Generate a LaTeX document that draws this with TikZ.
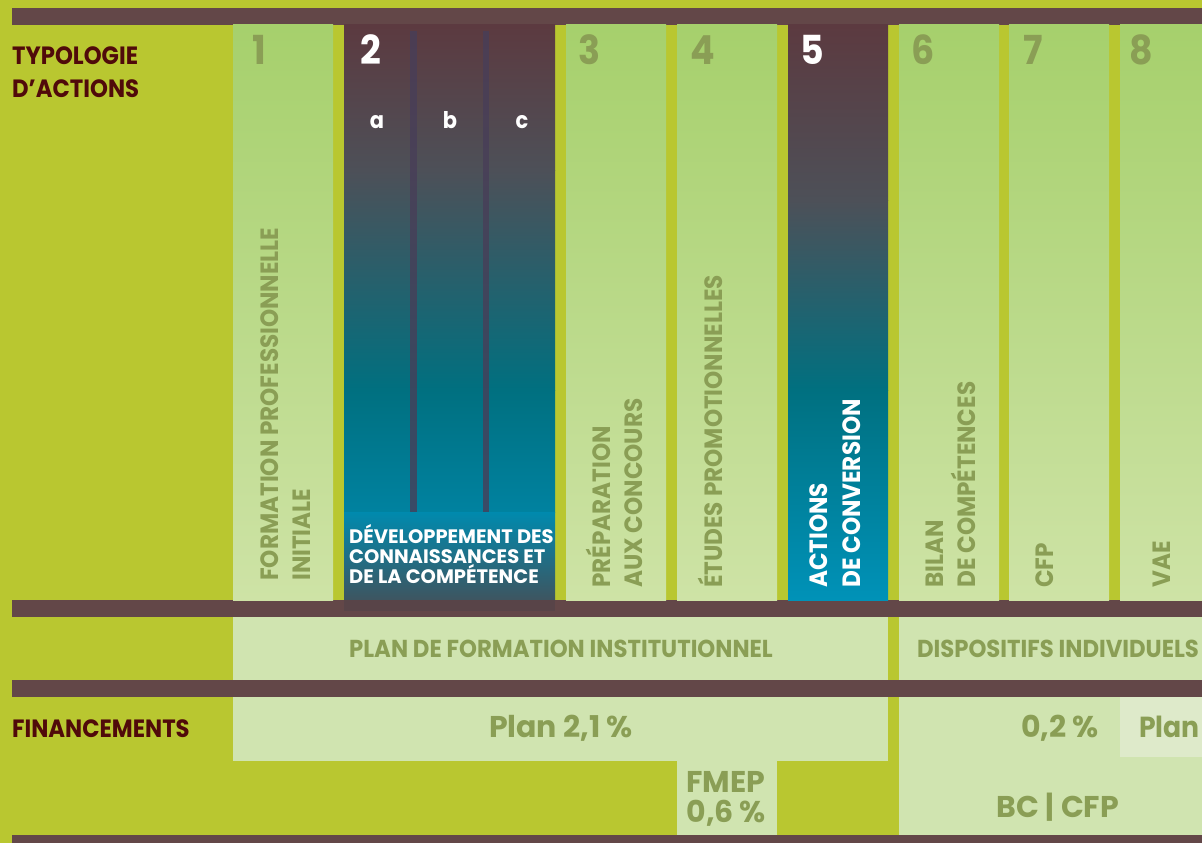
\documentclass[tikz,border=0pt]{standalone}
\usepackage{fontspec}
\setmainfont{Poppins}[FakeStretch=0.91]
\newfontfamily\vfont{Poppins}[FakeStretch=0.925]
\newfontfamily\rowfont{Poppins}[FakeStretch=0.93]
\newfontfamily\widefont{Poppins}[FakeStretch=1.0]
\newfontfamily\planfont{Poppins}[FakeStretch=0.92]
\newcommand\fsz[1]{\fontsize{#1}{#1}\selectfont}
\definecolor{olivebg}{RGB}{185,199,48}
\definecolor{barc}{RGB}{99,71,72}
\definecolor{lightrow}{RGB}{208,228,176}
\definecolor{lighter}{RGB}{222,234,202}
\definecolor{coltop}{RGB}{166,208,108}
\definecolor{colbot}{RGB}{206,227,166}
\definecolor{txtgreen}{RGB}{138,158,85}
\definecolor{maroon}{RGB}{80,10,10}
\definecolor{dkone}{RGB}{92,58,64}
\definecolor{dktwo}{RGB}{77,80,88}
\definecolor{tealone}{RGB}{0,112,128}
\definecolor{tealtwo}{RGB}{0,130,160}
\definecolor{tealthree}{RGB}{0,146,184}
\definecolor{lbtop}{RGB}{0,138,174}
\definecolor{lbbot}{RGB}{62,85,96}
\definecolor{sepc}{RGB}{72,62,88}
\definecolor{overbar}{RGB}{88,68,72}
\tikzset{
  hd/.style={inner sep=0pt, anchor=base west, text=maroon, font=\bfseries\fsz{25}},
  num/.style={inner sep=0pt, anchor=base, text=txtgreen, font=\bfseries\fsz{40}},
  sub/.style={inner sep=0pt, anchor=base, text=white, font=\bfseries\fsz{23}},
  vlbl/.style={inner sep=0pt, rotate=90, anchor=base west, text=txtgreen, font=\vfont\bfseries\fsz{25}},
  rowlbl/.style={inner sep=0pt, anchor=base, text=txtgreen, font=\rowfont\bfseries\fsz{24.5}},
  finlbl/.style={inner sep=0pt, anchor=base, text=txtgreen, font=\widefont\bfseries\fsz{30}},
  devlbl/.style={inner sep=0pt, anchor=base west, text=white, font=\widefont\bfseries\fsz{19.5}},
}
\begin{document}
\begin{tikzpicture}[x=1pt,y=1pt]
\useasboundingbox (0,0) rectangle (1202,-843);
\fill[olivebg] (0,0) rectangle (1202,-843);
% bars
\fill[barc] (12,-8) rectangle (1202,-25);
\fill[barc] (12,-600) rectangle (1202,-617);
\fill[barc] (12,-680) rectangle (1202,-697);
\fill[barc] (12,-835) rectangle (1202,-843);
% light columns
\foreach \l/\r in {233/333,566/666,677/777,899/999,1009/1109,1120/1202}
  \shade[top color=coltop,bottom color=colbot] (\l,-25) rectangle (\r,-600);
% column 2
\shade[top color=dkone,bottom color=dktwo] (344,-25) rectangle (555,-170.5);
\shade[top color=dktwo,bottom color=tealone] (344,-170) rectangle (555,-390.5);
\shade[top color=tealone,bottom color=tealtwo] (344,-390) rectangle (555,-512);
\fill[sepc,opacity=0.8] (410,-31) rectangle (417,-512);
\fill[sepc,opacity=0.8] (483,-31) rectangle (489,-512);
\shade[top color=lbtop,bottom color=lbbot] (344,-512) rectangle (555,-600);
\fill[overbar] (344,-600) rectangle (555,-611);
% column 5
\shade[top color=dkone,bottom color=dktwo] (788,-25) rectangle (888,-200.5);
\shade[top color=dktwo,bottom color=tealone] (788,-200) rectangle (888,-390.5);
\shade[top color=tealone,bottom color=tealthree] (788,-390) rectangle (888,-600);
% rows
\fill[lightrow] (233,-617) rectangle (888,-680);
\fill[lightrow] (899,-617) rectangle (1202,-680);
\fill[lightrow] (233,-697) rectangle (888,-761);
\fill[lightrow] (677,-760) rectangle (777,-835);
\fill[lightrow] (899,-697) rectangle (1202,-835);
\fill[lighter] (1120,-697) rectangle (1202,-757);
% headings
\node[hd] (typo) at (12,-65) {TYPOLOGIE};
\node[hd] (dact) at (12,-97) {D’ACTIONS};
\node[hd] (fin) at (12,-737) {FINANCEMENTS};
% numbers
\node[num] (n1) at (259,-65) {1};
\node[num,text=white] (n2) at (371,-65) {2};
\node[num] (n3) at (590,-65) {3};
\node[num] (n4) at (703,-65) {4};
\node[num,text=white] (n5) at (812,-65) {5};
\node[num] (n6) at (923,-65) {6};
\node[num] (n7) at (1033,-65) {7};
\node[num] (n8) at (1141,-65) {8};
% sub letters
\node[sub] (sa) at (377,-128) {a};
\node[sub] (sb) at (450,-128) {b};
\node[sub] (sc) at (522,-128) {c};
% vertical labels
\node[vlbl] (c1a) at (278,-581) {FORMATION PROFESSIONNELLE};
\node[vlbl] (c1b) at (310,-581) {INITIALE};
\node[vlbl] (c3a) at (610,-588) {PRÉPARATION};
\node[vlbl] (c3b) at (642,-588) {AUX CONCOURS};
\node[vlbl] (c4a) at (722,-588) {ÉTUDES PROMOTIONNELLES};
\node[vlbl,text=white] (c5a) at (827,-588) {ACTIONS};
\node[vlbl,text=white] (c5b) at (860,-588) {DE CONVERSION};
\node[vlbl] (c6a) at (943,-588) {BILAN};
\node[vlbl] (c6b) at (975,-588) {DE COMPÉTENCES};
\node[vlbl] (c7a) at (1053,-588) {CFP};
\node[vlbl] (c8a) at (1170,-588) {VAE};
% column 2 label
\node[devlbl] (d1) at (349,-543) {DÉVELOPPEMENT DES};
\node[devlbl] (d2) at (349,-563) {CONNAISSANCES ET};
\node[devlbl] (d3) at (349,-583) {DE LA COMPÉTENCE};
% row labels
\node[rowlbl] (planinst) at (561,-657) {PLAN DE FORMATION INSTITUTIONNEL};
\node[rowlbl] (dispind) at (1058,-657) {DISPOSITIFS INDIVIDUELS};
\node[finlbl] (plan21) at (561,-737) {Plan 2,1 \%};
\node[finlbl] (fmep) at (726,-792) {FMEP};
\node[finlbl] (fmep6) at (726,-822) {0,6\,\%};
\node[finlbl] (zero2) at (1060,-737) {0,2 \%};
\node[finlbl,font=\planfont\bfseries\fsz{29},anchor=base east] (planr) at (1200,-737) {Plan};
\node[finlbl] (bccfp) at (1058,-817) {BC | CFP};
\end{tikzpicture}
\end{document}
